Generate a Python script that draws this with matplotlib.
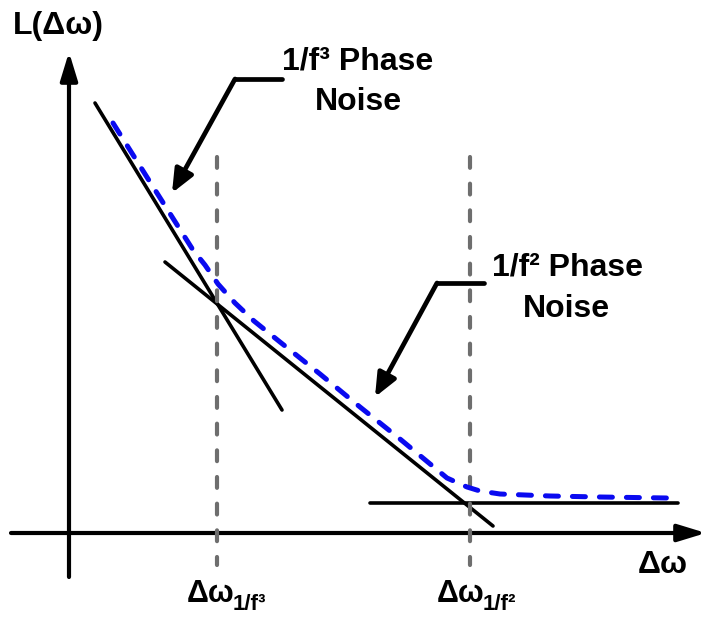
import matplotlib
matplotlib.use("Agg")
import matplotlib.pyplot as plt

plt.rcParams["font.family"] = ["Liberation Sans", "DejaVu Sans"]
plt.rcParams["font.weight"] = "bold"

# drawing units: horizontal offset axis and noise level axis (level grows downward)
flicker_x = [95, 282]          # 1/f^3 asymptote
flicker_L = [103, 410]
thermal_x = [165, 493]         # 1/f^2 asymptote
thermal_L = [262, 526]
floor_x = [370, 678]           # white noise floor
floor_L = [503, 503]
corner_x = [217, 470]          # corner offsets
corner_span = [157, 565]

# total phase noise
total_x = [113, 150, 193, 205, 218, 235, 254, 280, 320, 360, 400, 447, 467, 480, 500, 550, 600, 667]
total_L = [123, 182, 250, 265, 284, 303, 321, 342, 374, 407, 439, 478, 487, 491, 494, 496, 497, 498]

# pointers: (horizontal leg start, elbow, tip)
pointer_f3_x = [282, 235, 172]
pointer_f3_L = [79, 79, 193]
pointer_f2_x = [484, 437, 375]
pointer_f2_L = [283, 283, 397]

# axes: origin and arrow tips
origin = (69, 533)
y_axis_tail = 577
y_axis_tip = 52
x_axis_tail = 11
x_axis_tip = 706

fig = plt.figure(figsize=(7.05, 6.18), dpi=100)
ax = fig.add_axes([0, 0, 1, 1])
ax.set_xlim(0, 705)
ax.set_ylim(618, 0)
ax.axis("off")

axis_arrow = dict(arrowstyle="-|>,head_length=0.85,head_width=0.26", mutation_scale=20,
                  lw=3.0, color="black", shrinkA=0, shrinkB=0)
ax.annotate("", xy=(origin[0], y_axis_tip), xytext=(origin[0], y_axis_tail),
            arrowprops=axis_arrow, annotation_clip=False)
ax.annotate("", xy=(x_axis_tip, origin[1]), xytext=(x_axis_tail, origin[1]),
            arrowprops=axis_arrow, annotation_clip=False)

# asymptotes
for xs, ls in [(flicker_x, flicker_L), (thermal_x, thermal_L), (floor_x, floor_L)]:
    ax.plot(xs, ls, color="black", lw=2.6, solid_capstyle="round", zorder=3)

# corner frequency markers
for cx in corner_x:
    ax.plot([cx, cx], corner_span, color="#6e6e6e", lw=3.0,
            linestyle=(0, (2.6, 3.8)), dash_capstyle="round", zorder=4)

# total noise curve
ax.plot(total_x, total_L, color="#0a0af0", lw=3.6, linestyle=(0, (2.6, 2.8)),
        dash_capstyle="round", solid_joinstyle="round", zorder=5)

# pointers to the two regions
pointer_arrow = dict(arrowstyle="-|>,head_length=0.7,head_width=0.3", mutation_scale=20,
                     lw=3.4, color="black", shrinkA=0, shrinkB=0)
for px, pl in [(pointer_f3_x, pointer_f3_L), (pointer_f2_x, pointer_f2_L)]:
    ax.plot(px[:2], pl[:2], color="black", lw=3.4, solid_capstyle="round", zorder=6)
    ax.annotate("", xy=(px[2], pl[2]), xytext=(px[1], pl[1]), arrowprops=pointer_arrow, zorder=6)

big = dict(fontsize=23, fontweight="bold", va="baseline")
ax.text(13, 34, "L(Δω)", ha="left", **big)
ax.text(358, 69, "1/f³ Phase", ha="center", **big)
ax.text(358, 110, "Noise", ha="center", **big)
ax.text(567, 276, "1/f² Phase", ha="center", **big)
ax.text(566, 317, "Noise", ha="center", **big)
ax.text(638, 573, "Δω", ha="left", **big)

# corner labels with subscripts
for cx, sub in [(187, "1/f³"), (437, "1/f²")]:
    t = ax.text(cx, 602, "Δω", ha="left", fontsize=22, fontweight="bold", va="baseline")
    ax.annotate(sub, xy=(1, 0), xycoords=t, xytext=(-1.5, -1.0), textcoords="offset points",
                fontsize=16, fontweight="bold", ha="left", va="baseline")

fig.savefig("out.png", dpi=100)
